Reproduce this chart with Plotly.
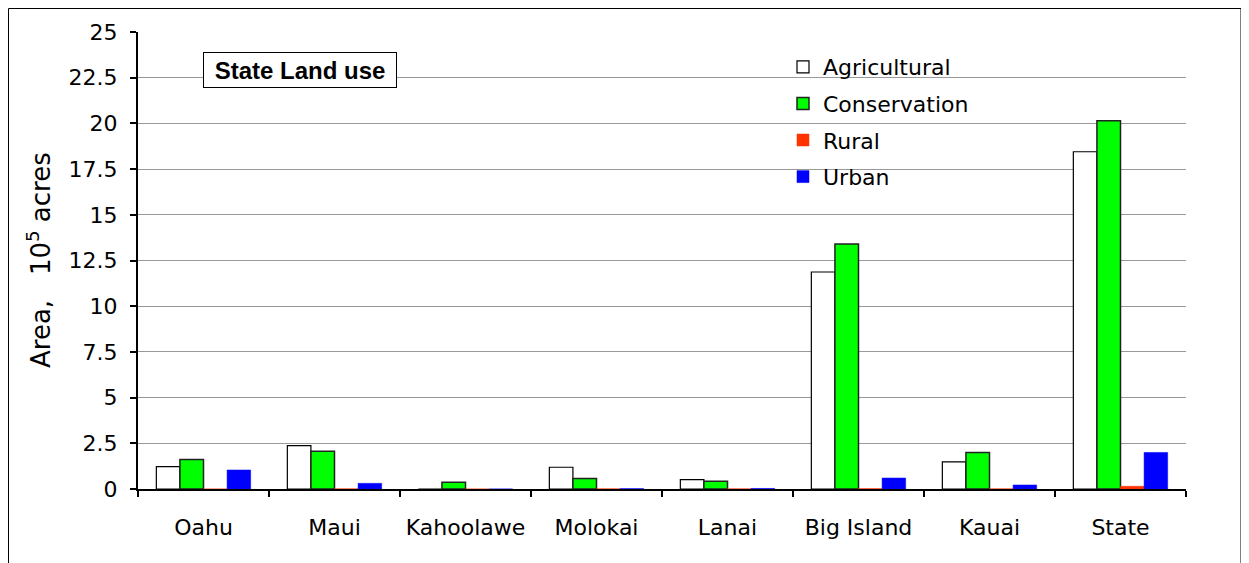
import plotly.graph_objects as go

categories = ["Oahu", "Maui", "Kahoolawe", "Molokai", "Lanai", "Big Island", "Kauai", "State"]
agricultural = [1.22, 2.37, 0.0, 1.19, 0.51, 11.87, 1.48, 18.45]
conservation = [1.62, 2.06, 0.37, 0.57, 0.42, 13.40, 1.99, 20.15]
rural = [0.0, 0.01, 0.0, 0.01, 0.01, 0.02, 0.01, 0.15]
urban = [1.04, 0.31, 0.0, 0.02, 0.03, 0.60, 0.22, 2.00]

FONT = "DejaVu Sans"

fig = go.Figure()
fig.add_trace(go.Bar(x=categories, y=agricultural, name="Agricultural", legendgroup="a",
                     marker=dict(color="#FFFFFF", line=dict(color="#000000", width=1.2))))
fig.add_trace(go.Bar(x=categories, y=conservation, name="Conservation", legendgroup="b",
                     marker=dict(color="#00FF00", line=dict(color="#222222", width=1.5))))
fig.add_trace(go.Bar(x=categories, y=rural, name="Rural", legendgroup="c",
                     marker=dict(color="#FF3300", line=dict(color="#FF3300", width=0.5))))
fig.add_trace(go.Bar(x=categories, y=urban, name="Urban", legendgroup="d",
                     marker=dict(color="#0000FF", line=dict(color="#0000FF", width=0.5))))

# page body has an 8px margin, so work in screen coords and shift
OFF = 8
W, H = 1249, 563
SX0, SX1, SY0, SY1 = 138, 1186, 32, 489  # plot area on screen
L, T = SX0 - OFF, SY0 - OFF
R = W - (SX1 - OFF)
B = H - (SY1 - OFF)
pw, ph = SX1 - SX0, SY1 - SY0

def px(x):
    return (x - SX0) / pw

def py(y):
    return (SY1 - y) / ph

fig.update_layout(
    width=W, height=H, autosize=False,
    margin=dict(l=L, r=R, t=T, b=B, autoexpand=False),
    paper_bgcolor="white", plot_bgcolor="white",
    barmode="group", bargap=0.28, bargroupgap=0,
    font=dict(family=FONT, color="#000000", size=22),
    legend=dict(x=px(783), y=py(46), xanchor="left", yanchor="top",
                bgcolor="rgba(0,0,0,0)", font=dict(family=FONT, size=22),
                tracegroupgap=5, itemclick=False),
    showlegend=True,
)

fig.update_xaxes(
    showline=True, linecolor="black", linewidth=2,
    ticks="outside", ticklen=6, tickwidth=1.5, tickcolor="black",
    tickson="boundaries", showgrid=False, tickangle=0, automargin=False,
    tickfont=dict(family=FONT, size=22), ticklabelstandoff=18,
)
fig.update_yaxes(
    range=[0, 25], dtick=2.5, tick0=0, automargin=False,
    showline=True, linecolor="black", linewidth=2,
    ticks="outside", ticklen=6, tickwidth=1.5, tickcolor="black",
    showgrid=True, gridcolor="#999999", gridwidth=1,
    zeroline=False,
    tickfont=dict(family=FONT, size=22), ticklabelstandoff=8,
)

# white background behind legend covering gridlines
fig.add_shape(type="rect", xref="paper", yref="paper",
              x0=px(790), x1=px(1005), y0=py(195), y1=py(42),
              fillcolor="white", line=dict(width=0), layer="between")

# outer frame
fig.add_shape(type="rect", xref="paper", yref="paper",
              x0=px(OFF + 0.5), x1=px(1241), y0=py(580), y1=py(OFF + 0.5),
              line=dict(color="black", width=1), fillcolor="rgba(0,0,0,0)", layer="above")

fig.add_annotation(xref="paper", yref="paper", x=px(300), y=py(70),
                   text="<b>State Land use</b>", showarrow=False,
                   font=dict(family="Liberation Sans", size=24, color="black"),
                   bgcolor="white", bordercolor="black", borderwidth=1,
                   borderpad=3, width=186, height=28, xanchor="center", yanchor="middle")

fig.add_annotation(xref="paper", yref="paper", x=px(39), y=py(260),
                   text="Area,\u00a0\u00a0\u00a010<sup>5</sup> acres", showarrow=False,
                   textangle=-90, font=dict(family=FONT, size=26, color="black"),
                   xanchor="center", yanchor="middle")

fig.write_html("out.html")
